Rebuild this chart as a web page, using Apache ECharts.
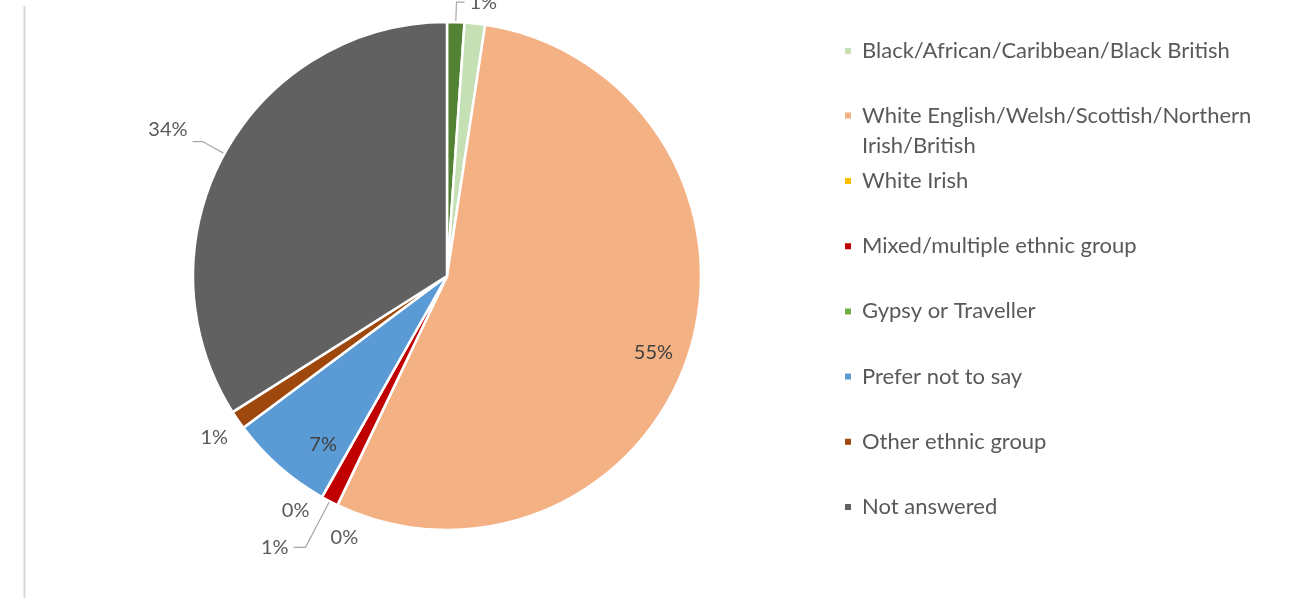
<!DOCTYPE html>
<html>
<head>
<meta charset="utf-8">
<script src="https://cdn.jsdelivr.net/npm/echarts@6/dist/echarts.min.js"></script>
<style>
  html, body { margin: 0; padding: 0; background: #ffffff; }
  #chart { width: 1291px; height: 598px; }
</style>
</head>
<body>
<div id="chart"></div>
<script>
// Ethnic group of respondents, share of all responses (%)
const categories = [
  'Asian/Asian British',
  'Black/African/Caribbean/Black British',
  'White English/Welsh/Scottish/Northern Irish/British',
  'White Irish',
  'Mixed/multiple ethnic group',
  'Gypsy or Traveller',
  'Prefer not to say',
  'Other ethnic group',
  'Not answered'
];
const shares = [1.1, 1.3, 54.7, 0, 1.1, 0, 6.6, 1.2, 34.0];
const colors = ['#548235', '#C5E0B4', '#F4B183', '#FFC000', '#C00000', '#70AD47', '#5B9BD5', '#9E480E', '#616161'];

// Legend blocks: the long wrapped name sits in the first block
const legendBlockA = categories.slice(1, 3);
const legendBlockB = categories.slice(3);

// Label placement for labels drawn outside the pie
const outerLabels = {
  'Asian/Asian British':          { line: true,  length: 20, length2: 8 },
  'White Irish':                  { line: false, length: 33, length2: 0, dx: 40, dy: 3 },
  'Mixed/multiple ethnic group':  { line: true,  length: 52, length2: 12 },
  'Gypsy or Traveller':           { line: false, length: 15, length2: 0 },
  'Other ethnic group':           { line: false, length: 30, length2: 0, dx: 20 },
  'Not answered':                 { line: true,  length: 25, length2: 10, dy: -12 }
};
// Labels drawn inside the larger slices, near the rim
const innerLabels = {
  'White English/Welsh/Scottish/Northern Irish/British': { dx: 0, dy: 13 },
  'Prefer not to say': { dx: 19, dy: 7 }
};

const FONT = 'Lato, "Open Sans", sans-serif';
const CENTER = [447, 276];
const RADIUS = 254;
const LEGEND_WRAP = 38;   // max characters per legend line

const pctLabel = p => Math.round(p.percent) + '%';

// Word-wrap a legend name; wrapped names get an empty lead line so the
// first text line stays level with the legend marker.
function legendText(name) {
  const words = name.split(' ');
  const lines = [];
  let cur = '';
  words.forEach(w => {
    const next = cur ? cur + ' ' + w : w;
    if (next.length > LEGEND_WRAP && cur) { lines.push(cur); cur = w; }
    else cur = next;
  });
  lines.push(cur);
  return lines.length > 1 ? '\n' + lines.join('\n') : name;
}

const chart = echarts.init(document.getElementById('chart'), null, { renderer: 'canvas' });

const legendCommon = {
  orient: 'vertical',
  left: 843,
  padding: 0,
  itemWidth: 8,
  itemHeight: 8,
  icon: 'rect',
  formatter: legendText,
  textStyle: {
    fontFamily: FONT,
    fontSize: 22,
    color: '#595959',
    lineHeight: 30,
    padding: [0, 0, 0, 5]
  }
};

chart.setOption({
  animation: false,
  color: colors,
  graphic: [{
    type: 'line',
    silent: true,
    shape: { x1: 24.5, y1: 6, x2: 24.5, y2: 598 },
    style: { stroke: '#d9d9d9', lineWidth: 2 }
  }],
  legend: [
    Object.assign({}, legendCommon, { top: 36, itemGap: 4.5, data: legendBlockA }),
    Object.assign({}, legendCommon, { top: 166, itemGap: 35.2, data: legendBlockB })
  ],
  series: [
    {
      name: 'Ethnic group',
      type: 'pie',
      center: CENTER,
      radius: RADIUS,
      startAngle: 90,
      clockwise: true,
      avoidLabelOverlap: false,
      itemStyle: { borderColor: '#ffffff', borderWidth: 2.5 },
      label: {
        position: 'outside',
        formatter: pctLabel,
        fontFamily: FONT,
        fontSize: 20,
        color: '#595959',
        textBorderWidth: 0,
        distanceToLabelLine: 5,
        alignTo: 'none'
      },
      labelLine: {
        lineStyle: { color: '#a6a6a6', width: 1.2 }
      },
      labelLayout: function (params) {
        const cfg = outerLabels[categories[params.dataIndex]];
        return cfg ? { dx: cfg.dx || 0, dy: cfg.dy || 0 } : {};
      },
      emphasis: { scale: false },
      data: categories.map((name, i) => {
        const cfg = outerLabels[name];
        return {
          name,
          value: shares[i],
          itemStyle: { color: colors[i] },
          label: { show: !!cfg },
          labelLine: {
            show: !!(cfg && cfg.line),
            length: cfg ? cfg.length : 10,
            length2: cfg ? cfg.length2 : 0
          }
        };
      })
    },
    {
      // Transparent rim ring used to place the in-slice labels near the edge
      name: 'Ethnic group labels',
      type: 'pie',
      center: CENTER,
      radius: [172, RADIUS],
      startAngle: 90,
      clockwise: true,
      silent: true,
      avoidLabelOverlap: false,
      tooltip: { show: false },
      emphasis: { disabled: true },
      itemStyle: { color: 'rgba(0,0,0,0)', borderWidth: 0 },
      label: {
        position: 'inside',
        formatter: pctLabel,
        fontFamily: FONT,
        fontSize: 20,
        color: '#404040',
        textBorderWidth: 0
      },
      labelLine: { show: false },
      labelLayout: function (params) {
        const cfg = innerLabels[categories[params.dataIndex]];
        return cfg ? { dx: cfg.dx, dy: cfg.dy } : {};
      },
      data: categories.map((name, i) => ({
        name,
        value: shares[i],
        itemStyle: { color: 'rgba(0,0,0,0)' },
        label: { show: !!innerLabels[name] }
      }))
    }
  ]
});
</script>
</body>
</html>
